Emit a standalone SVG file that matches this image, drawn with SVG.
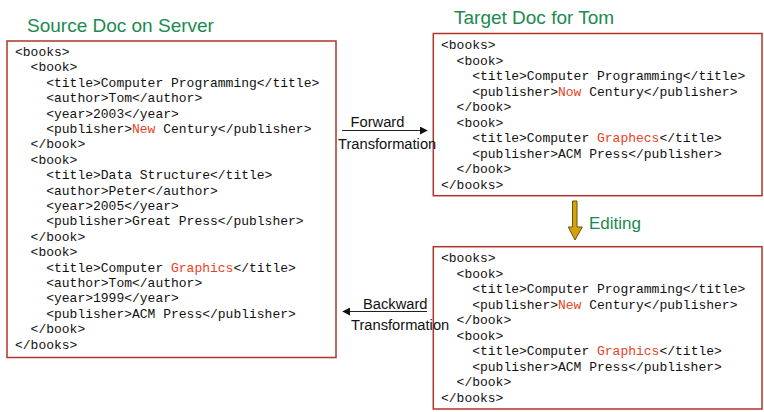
<svg xmlns="http://www.w3.org/2000/svg" width="764" height="412" viewBox="0 0 764 412">
  <style>
    .box { fill: #ffffff; stroke: #b0342a; stroke-width: 1.5; }
    .code { font-family: "Liberation Mono", "Courier New", monospace; font-size: 13px; fill: #111111; }
    .hl { fill: #e8431c; }
    .head { font-family: "Liberation Sans", Arial, sans-serif; font-size: 19px; fill: #1b8a4e; }
    .lbl { font-family: "Liberation Sans", Arial, sans-serif; font-size: 14.7px; fill: #111111; }
    .edit { font-family: "Liberation Sans", Arial, sans-serif; font-size: 17px; fill: #1b8a4e; }
    .link { stroke: #222222; stroke-width: 1.2; fill: none; }
  </style>
  <defs>
    <marker id="arrow" viewBox="0 0 10 10" refX="9" refY="5" markerWidth="8" markerHeight="8" markerUnits="userSpaceOnUse" orient="auto-start-reverse">
      <path d="M0,0 L10,5 L0,10 Z" fill="#111111"/>
    </marker>
  </defs>

  <rect width="764" height="412" fill="#ffffff"/>

  <!-- Source document -->
  <g id="source-doc">
    <text class="head" x="27" y="31.5">Source Doc on Server</text>
    <rect class="box" x="7" y="41" width="329" height="316.5"/>
    <text class="code" x="15" y="56">&lt;books&gt;</text>
    <text class="code" x="30.6" y="71.4">&lt;book&gt;</text>
    <text class="code" x="46.2" y="86.8">&lt;title&gt;Computer Programming&lt;/title&gt;</text>
    <text class="code" x="46.2" y="102.2">&lt;author&gt;Tom&lt;/author&gt;</text>
    <text class="code" x="46.2" y="117.6">&lt;year&gt;2003&lt;/year&gt;</text>
    <text class="code" x="46.2" y="133">&lt;publisher&gt;<tspan class="hl">New</tspan> Century&lt;/publisher&gt;</text>
    <text class="code" x="30.6" y="148.4">&lt;/book&gt;</text>
    <text class="code" x="30.6" y="163.8">&lt;book&gt;</text>
    <text class="code" x="46.2" y="179.2">&lt;title&gt;Data Structure&lt;/title&gt;</text>
    <text class="code" x="46.2" y="194.6">&lt;author&gt;Peter&lt;/author&gt;</text>
    <text class="code" x="46.2" y="210">&lt;year&gt;2005&lt;/year&gt;</text>
    <text class="code" x="46.2" y="225.4">&lt;publisher&gt;Great Press&lt;/publsher&gt;</text>
    <text class="code" x="30.6" y="240.8">&lt;/book&gt;</text>
    <text class="code" x="30.6" y="256.2">&lt;book&gt;</text>
    <text class="code" x="46.2" y="271.6">&lt;title&gt;Computer <tspan class="hl">Graphics</tspan>&lt;/title&gt;</text>
    <text class="code" x="46.2" y="287">&lt;author&gt;Tom&lt;/author&gt;</text>
    <text class="code" x="46.2" y="302.4">&lt;year&gt;1999&lt;/year&gt;</text>
    <text class="code" x="46.2" y="317.8">&lt;publisher&gt;ACM Press&lt;/publisher&gt;</text>
    <text class="code" x="30.6" y="333.2">&lt;/book&gt;</text>
    <text class="code" x="15" y="348.6">&lt;/books&gt;</text>
  </g>

  <!-- Target document -->
  <g id="target-doc">
    <text class="head" x="454" y="23.6">Target Doc for Tom</text>
    <rect class="box" x="433.3" y="33.5" width="328.7" height="162.2"/>
    <text class="code" x="441" y="49">&lt;books&gt;</text>
    <text class="code" x="456.6" y="64.5">&lt;book&gt;</text>
    <text class="code" x="472.2" y="80">&lt;title&gt;Computer Programming&lt;/title&gt;</text>
    <text class="code" x="472.2" y="95.5">&lt;publisher&gt;<tspan class="hl">Now</tspan> Century&lt;/publisher&gt;</text>
    <text class="code" x="456.6" y="111">&lt;/book&gt;</text>
    <text class="code" x="456.6" y="126.5">&lt;book&gt;</text>
    <text class="code" x="472.2" y="142">&lt;title&gt;Computer <tspan class="hl">Graphecs</tspan>&lt;/title&gt;</text>
    <text class="code" x="472.2" y="157.5">&lt;publisher&gt;ACM Press&lt;/publisher&gt;</text>
    <text class="code" x="456.6" y="173">&lt;/book&gt;</text>
    <text class="code" x="441" y="188.5">&lt;/books&gt;</text>
  </g>

  <!-- Edited target document -->
  <g id="edited-doc">
    <rect class="box" x="433.3" y="246.7" width="328.7" height="162.3"/>
    <text class="code" x="441" y="262">&lt;books&gt;</text>
    <text class="code" x="456.6" y="277.5">&lt;book&gt;</text>
    <text class="code" x="472.2" y="293">&lt;title&gt;Computer Programming&lt;/title&gt;</text>
    <text class="code" x="472.2" y="308.5">&lt;publisher&gt;<tspan class="hl">New</tspan> Century&lt;/publisher&gt;</text>
    <text class="code" x="456.6" y="324">&lt;/book&gt;</text>
    <text class="code" x="456.6" y="339.5">&lt;book&gt;</text>
    <text class="code" x="472.2" y="355">&lt;title&gt;Computer <tspan class="hl">Graphics</tspan>&lt;/title&gt;</text>
    <text class="code" x="472.2" y="370.5">&lt;publisher&gt;ACM Press&lt;/publisher&gt;</text>
    <text class="code" x="456.6" y="386">&lt;/book&gt;</text>
    <text class="code" x="441" y="401.5">&lt;/books&gt;</text>
  </g>

  <!-- Transformations between the documents -->
  <g id="connectors">
    <line class="link" x1="342" y1="130.5" x2="427" y2="130.5" marker-end="url(#arrow)"/>
    <text class="lbl" x="350.5" y="127">Forward</text>
    <text class="lbl" x="338" y="149">Transformation</text>

    <line class="link" x1="427" y1="311.5" x2="343" y2="311.5" marker-end="url(#arrow)"/>
    <text class="lbl" x="363" y="309">Backward</text>
    <text class="lbl" x="351" y="329.5">Transformation</text>

    <path d="M572.5,201 L577,201 L577,227 L582.3,227 L575,240 L568.3,227 L572.5,227 Z" fill="#d4a10f" stroke="#6e5200" stroke-width="1"/>
    <text class="edit" x="589" y="229">Editing</text>
  </g>
</svg>
